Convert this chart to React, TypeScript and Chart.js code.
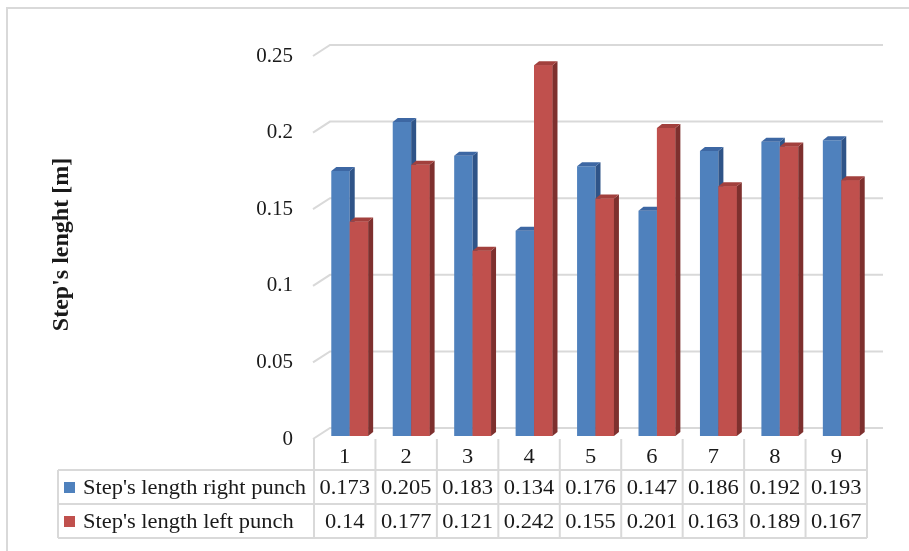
import React, { useEffect, useRef } from 'react';
import { Chart, registerables } from 'chart.js';

Chart.register(...registerables);

// ---- data ----
const categories = ['1', '2', '3', '4', '5', '6', '7', '8', '9'];
const rightPunch = [0.173, 0.205, 0.183, 0.134, 0.176, 0.147, 0.186, 0.192, 0.193];
const leftPunch = [0.14, 0.177, 0.121, 0.242, 0.155, 0.201, 0.163, 0.189, 0.167];
const seriesNames = ["Step's length right punch", "Step's length left punch"];
const yTickValues = [0, 0.05, 0.1, 0.15, 0.2, 0.25];
const yTitle = "Step's lenght [m]";

// ---- style ----
const FONT = '"Liberation Serif", "Times New Roman", serif';
const TEXT = '#1a1a1a';
const GRID = '#d9d9d9';
const FACES = [
  { front: '#4F81BD', side: '#2F5488', top: '#3D67A3' },
  { front: '#C0504D', side: '#7E302E', top: '#A2403D' },
];
const DX = 5; // bar depth x
const DY = 4; // bar depth y
const BAR_SHIFT = 5; // bars sit to the right of the front edge
const TEXT_STRETCH = 1.07;

function poly(ctx: CanvasRenderingContext2D, pts: number[][]) {
  ctx.beginPath();
  ctx.moveTo(pts[0][0], pts[0][1]);
  for (let i = 1; i < pts.length; i++) ctx.lineTo(pts[i][0], pts[i][1]);
  ctx.closePath();
  ctx.fill();
}

function stretchedText(ctx: CanvasRenderingContext2D, s: string, x: number, y: number) {
  ctx.save();
  ctx.translate(x, y);
  ctx.scale(TEXT_STRETCH, 1);
  ctx.fillText(s, 0, 0);
  ctx.restore();
}

const excel3d = {
  id: 'excel3d',
  beforeDraw(chart: any) {
    const { ctx, width, height } = chart;
    ctx.save();
    ctx.fillStyle = '#fff';
    ctx.fillRect(0, 0, width, height);
    ctx.strokeStyle = GRID;
    ctx.lineWidth = 2;
    ctx.beginPath();
    ctx.moveTo(7, height);
    ctx.lineTo(7, 8);
    ctx.lineTo(width, 8);
    ctx.stroke();
    ctx.restore();
  },
  beforeDatasetsDraw(chart: any) {
    const { ctx, chartArea, scales } = chart;
    const y = scales.y;
    const frontLeft = chartArea.left - 6;
    ctx.save();
    ctx.strokeStyle = GRID;
    ctx.lineWidth = 2;
    yTickValues.forEach((v) => {
      const yf = y.getPixelForValue(v) + 3;
      ctx.beginPath();
      ctx.moveTo(frontLeft, yf);
      ctx.lineTo(frontLeft + 17, yf - 11);
      ctx.lineTo(chartArea.right + 11, yf - 11);
      ctx.stroke();
    });
    ctx.restore();
  },
  afterDatasetsDraw(chart: any) {
    const { ctx, chartArea, scales } = chart;
    const x = scales.x;
    const metas = [chart.getDatasetMeta(0), chart.getDatasetMeta(1)];
    ctx.save();
    for (let i = 0; i < categories.length; i++) {
      metas.forEach((meta, d) => {
        const el = meta.data[i];
        if (!el) return;
        const p = el.getProps(['x', 'y', 'base', 'width'], true);
        const l = p.x - p.width / 2;
        const r = p.x + p.width / 2;
        const top = p.y;
        const base = p.base;
        const c = FACES[d];
        if (d === 1) {
          ctx.fillStyle = c.front;
          ctx.fillRect(l, top, p.width, base - top);
        }
        ctx.fillStyle = c.side;
        poly(ctx, [[r, top], [r + DX, top - DY], [r + DX, base - DY], [r, base]]);
        ctx.fillStyle = c.top;
        poly(ctx, [[l, top], [l + DX, top - DY], [r + DX, top - DY], [r, top]]);
      });
    }

    // ---- data table ----
    const catW = (chartArea.right - chartArea.left) / categories.length;
    const b = chartArea.bottom;
    const headerTop = b + 3;
    const row1 = b + 34;
    const row2 = b + 68;
    const tBottom = b + 102;
    const legendLeft = 58;
    const colX = (i: number) => x.getPixelForValue(Math.min(i, categories.length - 1)) - BAR_SHIFT - catW / 2 + (i >= categories.length ? catW : 0);
    const right = colX(categories.length);

    ctx.strokeStyle = GRID;
    ctx.lineWidth = 2;
    ctx.beginPath();
    for (let i = 0; i <= categories.length; i++) {
      const cx = colX(i);
      ctx.moveTo(cx, headerTop);
      ctx.lineTo(cx, tBottom);
    }
    ctx.moveTo(legendLeft, row1);
    ctx.lineTo(legendLeft, tBottom);
    [row1, row2, tBottom].forEach((yy) => {
      ctx.moveTo(legendLeft, yy);
      ctx.lineTo(right, yy);
    });
    ctx.stroke();

    ctx.font = `21px ${FONT}`;
    ctx.fillStyle = TEXT;
    ctx.textAlign = 'center';
    ctx.textBaseline = 'middle';
    categories.forEach((c, i) => {
      const cx = colX(i) + catW / 2;
      stretchedText(ctx, c, cx, headerTop + 18);
    });
    const rows = [rightPunch, leftPunch];
    const rowMid = [(row1 + row2) / 2, (row2 + tBottom) / 2];
    rows.forEach((vals, r) => {
      vals.forEach((v, i) => {
        ctx.fillStyle = TEXT;
        ctx.textAlign = 'center';
        stretchedText(ctx, String(v), colX(i) + catW / 2, rowMid[r] + 1);
      });
      ctx.fillStyle = FACES[r].front;
      ctx.fillRect(64, rowMid[r] - 5, 11, 11);
      ctx.fillStyle = TEXT;
      ctx.textAlign = 'left';
      stretchedText(ctx, seriesNames[r], 83, rowMid[r] + 1);
    });
    ctx.restore();
  },
};

export default function App() {
  const ref = useRef<HTMLCanvasElement>(null);
  useEffect(() => {
    if (!ref.current) return;
    const chart = new Chart(ref.current, {
      type: 'bar',
      data: {
        labels: categories,
        datasets: [
          {
            label: seriesNames[0],
            data: rightPunch,
            backgroundColor: FACES[0].front,
            borderWidth: 0,
            categoryPercentage: 0.6,
            barPercentage: 1,
          },
          {
            label: seriesNames[1],
            data: leftPunch,
            backgroundColor: FACES[1].front,
            borderWidth: 0,
            categoryPercentage: 0.6,
            barPercentage: 1,
          },
        ],
      },
      options: {
        responsive: false,
        maintainAspectRatio: false,
        animation: false,
        devicePixelRatio: 1,
        layout: { padding: { top: 53, right: 37, bottom: 115, left: 0 } },
        plugins: {
          legend: { display: false },
          tooltip: { enabled: false },
        },
        scales: {
          x: { display: false },
          y: {
            min: 0,
            max: 0.25,
            afterFit: (scale: any) => {
              scale.width = 319;
            },
            grid: { display: false, drawTicks: false },
            border: { display: false },
            ticks: {
              stepSize: 0.05,
              padding: 26,
              labelOffset: 3,
              color: TEXT,
              font: { family: FONT, size: 21 },
              callback: (v: any) => String(+Number(v).toFixed(2)),
            },
            title: {
              display: true,
              text: yTitle,
              color: TEXT,
              font: { family: FONT, size: 24, weight: 'bold' },
              padding: { top: 47, bottom: 0 },
            },
          },
        },
      },
      plugins: [excel3d],
    });
    return () => chart.destroy();
  }, []);
  return (
    <div style={{ position: 'absolute', left: 0, top: 0, width: 909, height: 551, background: '#fff' }}>
      <canvas ref={ref} width={909} height={551} style={{ display: 'block' }} />
    </div>
  );
}
